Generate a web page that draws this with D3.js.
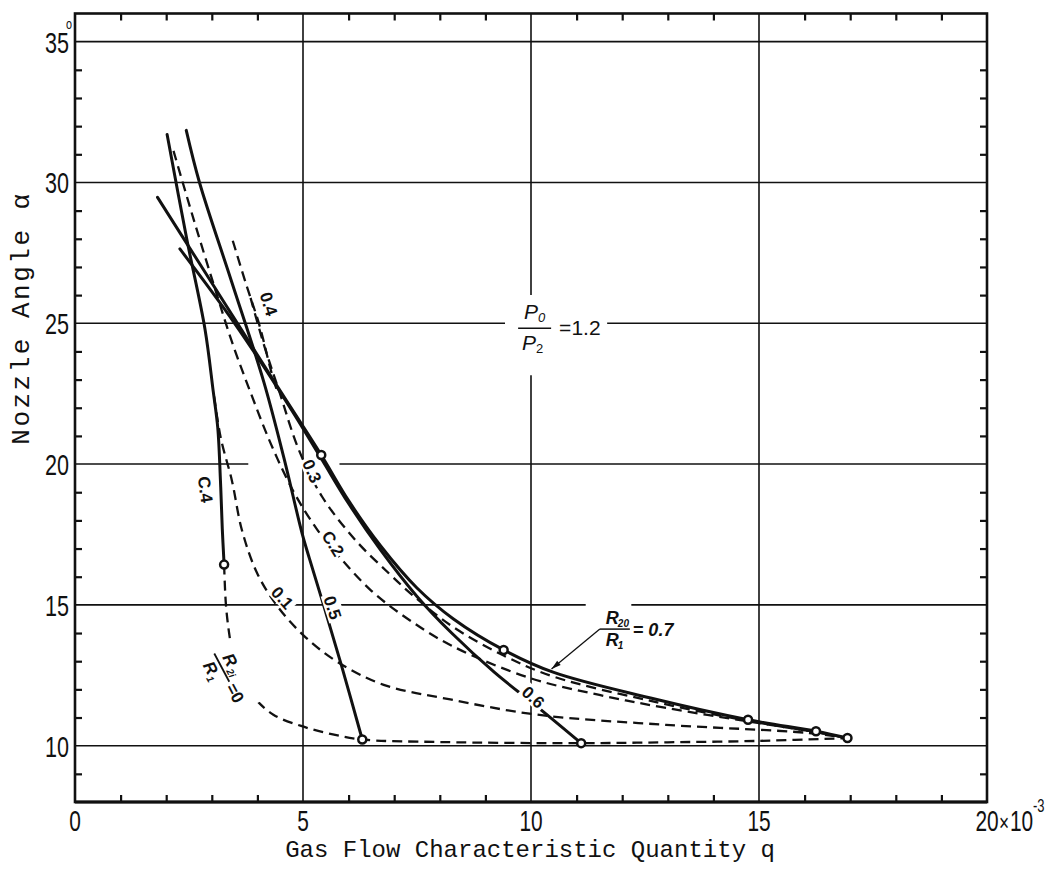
<!DOCTYPE html>
<html><head><meta charset="utf-8">
<script src="https://cdn.jsdelivr.net/npm/d3@7"></script>
<style>body{margin:0;background:#fff}svg{display:block}</style>
</head><body><svg id="c" width="1045" height="872"></svg>
<script>
// ---- tick labels / axis data ----
const xMajor = [0, 5, 10, 15, 20];
const xMajorLabels = ["0", "5", "10", "15", "20"];
const yMajor = [10, 15, 20, 25, 30, 35];
const yMajorLabels = ["10", "15", "20", "25", "30", "35"];
const xTitle = "Gas Flow Characteristic Quantity q";
const yTitle = "Nozzle Angle \u03b1";

// ---- solid lines R20/R1 (q in 10^-3, alpha in degrees) ----
const s04_q = [2.02, 2.45, 2.85, 3.03, 3.13, 3.19, 3.23, 3.27];
const s04_a = [31.7, 28.0, 24.8, 22.6, 21.3, 19.4, 17.7, 16.43];
const s05_q = [2.44, 2.73, 3.43, 4.14, 4.58, 4.98, 5.14, 5.45, 5.84, 6.3];
const s05_a = [31.85, 30.0, 26.5, 22.92, 20.23, 17.54, 16.65, 15.0, 12.87, 10.22];
const s06_q = [2.3, 3.5, 4.7, 5.4, 6.0, 6.7, 7.5, 8.26, 9.2, 10.2, 11.1];
const s06_a = [27.64, 25.0, 22.05, 20.2, 18.6, 16.95, 15.3, 14.0, 12.6, 11.3, 10.09];
const s07_q = [1.81, 2.7, 3.6, 4.5, 5.4, 6.0, 6.7, 7.5, 8.3, 9.4, 10.5, 12.6, 14.76, 16.25, 16.94];
const s07_a = [29.47, 27.2, 24.9, 22.6, 20.32, 18.7, 17.1, 15.6, 14.5, 13.4, 12.6, 11.7, 10.92, 10.51, 10.27];

// ---- dashed lines R2i/R1 ----
const d0_q = [3.27, 3.31, 3.38, 3.5, 3.7, 3.9, 4.35, 4.96, 5.6, 6.3, 8.0, 11.1, 13.0, 15.0, 16.94];
const d0_a = [16.43, 15.0, 14.0, 12.9, 12.2, 11.75, 11.1, 10.7, 10.42, 10.22, 10.13, 10.09, 10.12, 10.17, 10.27];
const d01_q = [3.05, 3.2, 3.44, 3.66, 3.99, 4.43, 5.01, 5.75, 6.77, 8.23, 10.14, 12.96, 16.1, 16.94];
const d01_a = [22.4, 20.9, 19.42, 17.66, 16.14, 14.97, 13.92, 12.98, 12.16, 11.64, 11.1, 10.74, 10.45, 10.27];
const d02_q = [2.16, 2.6, 3.06, 3.45, 3.86, 4.3, 4.8, 5.3, 5.72, 6.5, 7.3, 8.26, 9.98, 11.5, 12.96, 14.76, 16.25, 16.94];
const d02_a = [31.12, 28.7, 26.28, 24.3, 22.5, 20.7, 19.0, 17.7, 16.85, 15.5, 14.5, 13.55, 12.4, 11.8, 11.34, 10.86, 10.48, 10.27];
const d03_q = [3.85, 4.15, 4.47, 4.91, 5.42, 6.15, 6.89, 7.4, 8.26, 9.4, 10.5, 12.6, 14.76, 16.25, 16.94];
const d03_a = [25.9, 24.2, 22.63, 20.5, 18.84, 17.3, 16.11, 15.35, 14.25, 13.2, 12.45, 11.6, 10.88, 10.48, 10.27];
const d04_q = [3.46, 3.75, 4.05, 4.3, 4.45];
const d04_a = [27.93, 26.4, 24.9, 23.3, 22.5];

// ---- marked points ----
const pts_q = [3.27, 6.3, 11.1, 5.4, 9.4, 14.76, 16.25, 16.94];
const pts_a = [16.43, 10.22, 10.09, 20.32, 13.4, 10.92, 10.51, 10.27];

// ---- inline curve labels ----
const lab_text = ["0.4", "C.4", "0.3", "C.2", "0.1", "0.5", "0.6"];
const lab_q = [4.25, 2.86, 5.2, 5.66, 4.55, 5.65, 10.05];
const lab_a = [25.69, 19.1, 19.75, 17.18, 15.25, 14.9, 11.72];
const lab_rot = [72, 82, 66, 58, 48, 72, 42];

const svg = d3.select("#c");
const x = d3.scaleLinear().domain([0, 20]).range([75, 987]);
const y = d3.scaleLinear().domain([8, 36]).range([802, 13.5]);
const ink = "#111";
const mono = "'Liberation Mono','DejaVu Sans Mono',monospace";
const sans = "'Liberation Sans','DejaVu Sans',sans-serif";

// ---- gridlines (with the interruptions of the original) ----
const g = svg.append("g");
const hGaps = {25: [[9.43, 11.67]], 20: [[3.8, 5.8]], 15: [[11.2, 12.2]]};
yMajor.forEach(v => {
  const gaps = hGaps[v] || [];
  let start = 0;
  const segs = [];
  gaps.forEach(([a, b]) => { segs.push([start, a]); start = b; });
  segs.push([start, 20]);
  segs.forEach(([a, b]) => g.append("line")
    .attr("x1", x(a)).attr("x2", x(b)).attr("y1", y(v)).attr("y2", y(v))
    .attr("stroke", ink).attr("stroke-width", 1.6));
});
const vGaps = {10: [[23.15, 26.0]]};
[5, 10, 15].forEach(v => {
  const gaps = vGaps[v] || [];
  let start = 8;
  const segs = [];
  gaps.forEach(([a, b]) => { segs.push([start, a]); start = b; });
  segs.push([start, 36]);
  segs.forEach(([a, b]) => g.append("line")
    .attr("x1", x(v)).attr("x2", x(v)).attr("y1", y(a)).attr("y2", y(b))
    .attr("stroke", ink).attr("stroke-width", 1.6));
});

// ---- minor ticks via d3 axes (inward) ----
const minorX = d3.range(1, 20).filter(d => d % 5 !== 0);
const minorY = d3.range(9, 36).filter(d => d % 5 !== 0);
const styleAxis = sel => { sel.select(".domain").remove(); sel.selectAll("line").attr("stroke", ink).attr("stroke-width", 2.2); sel.selectAll("text").remove(); };
svg.append("g").attr("transform", `translate(0,${y(8)})`).call(d3.axisBottom(x).tickValues(minorX).tickSize(-7)).call(styleAxis);
svg.append("g").attr("transform", `translate(0,${y(36)})`).call(d3.axisTop(x).tickValues(minorX).tickSize(-7)).call(styleAxis);
svg.append("g").attr("transform", `translate(${x(0)},0)`).call(d3.axisLeft(y).tickValues(minorY).tickSize(-7)).call(styleAxis);
svg.append("g").attr("transform", `translate(${x(20)},0)`).call(d3.axisRight(y).tickValues(minorY).tickSize(-7)).call(styleAxis);

// ---- frame ----
svg.append("rect").attr("x", x(0)).attr("y", y(36)).attr("width", x(20) - x(0)).attr("height", y(8) - y(36))
  .attr("fill", "none").attr("stroke", ink).attr("stroke-width", 2.6);
svg.append("line").attr("x1", x(0)).attr("x2", x(20)).attr("y1", y(8)).attr("y2", y(8)).attr("stroke", ink).attr("stroke-width", 3.2);

// ---- tick labels (tall, narrow digits) ----
const tl = svg.append("g").attr("font-family", sans).attr("fill", ink);
const nt = (px, py, t, anchor, size) => tl.append("text")
  .attr("transform", `translate(${px},${py}) scale(0.72,1)`)
  .attr("text-anchor", anchor).attr("font-size", size).text(t);
xMajor.forEach((v, i) => nt(x(v), 831, xMajorLabels[i], "middle", 29));
nt(x(20) + 12, 831, "\u00d7", "start", 24);
nt(x(20) + 23, 831, "10", "start", 29);
nt(x(20) + 46, 812, "-3", "start", 18);
yMajor.forEach((v, i) => nt(x(0) - 6, y(v) + 11, yMajorLabels[i], "end", 30));
nt(x(0) - 9, y(35) - 13, "o", "start", 15);

// ---- axis titles ----
svg.append("text").attr("x", 530).attr("y", 857).attr("text-anchor", "middle")
  .attr("font-family", mono).attr("font-size", 24).attr("fill", ink).text(xTitle);
svg.append("text").attr("transform", `translate(29,318) rotate(-90)`).attr("text-anchor", "middle")
  .attr("font-family", mono).attr("font-size", 26).attr("letter-spacing", 2.5).attr("fill", ink).text(yTitle);

// ---- curves ----
const line = d3.line().x(d => x(d[0])).y(d => y(d[1])).curve(d3.curveCatmullRom.alpha(0.5));
const zip = (qs, as) => qs.map((q, i) => [q, as[i]]);
const cg = svg.append("g").attr("fill", "none").attr("stroke", ink).attr("stroke-linecap", "round");
[[d0_q, d0_a], [d01_q, d01_a], [d02_q, d02_a], [d03_q, d03_a], [d04_q, d04_a]].forEach(([qs, as]) => {
  cg.append("path").attr("d", line(zip(qs, as))).attr("stroke-width", 2.3).attr("stroke-dasharray", "10,6").attr("stroke-linecap", "butt");
});
[[s04_q, s04_a], [s05_q, s05_a], [s06_q, s06_a], [s07_q, s07_a]].forEach(([qs, as]) => {
  cg.append("path").attr("d", line(zip(qs, as))).attr("stroke-width", 3);
});

// ---- curve labels ----
const lg = svg.append("g").attr("font-family", sans).attr("font-weight", "bold").attr("font-size", 17).attr("fill", ink);
lab_text.forEach((t, i) => {
  const gx = lg.append("g").attr("transform", `translate(${x(lab_q[i])},${y(lab_a[i])}) rotate(${lab_rot[i]})`);
  gx.append("rect").attr("x", -14).attr("y", -9).attr("width", 28).attr("height", 17).attr("fill", "#fff");
  gx.append("text").attr("text-anchor", "middle").attr("dy", 6).text(t);
});

// ---- marked points ----
svg.append("g").selectAll("circle").data(zip(pts_q, pts_a)).join("circle")
  .attr("cx", d => x(d[0])).attr("cy", d => y(d[1])).attr("r", 4)
  .attr("fill", "#fff").attr("stroke", ink).attr("stroke-width", 2.5);

// ---- R2i/R1 = 0 label ----
const r0 = svg.append("g").attr("transform", `translate(${x(3.3)},${y(12.6)}) rotate(62)`)
  .attr("font-family", sans).attr("font-weight", "bold").attr("font-style", "italic").attr("font-size", 17).attr("fill", ink);
r0.append("rect").attr("x", -24).attr("y", -21).attr("width", 66).attr("height", 42).attr("fill", "#fff");
r0.append("text").attr("x", -9).attr("y", -4).attr("text-anchor", "middle").text("R");
r0.append("text").attr("x", -1).attr("y", -1).attr("font-size", 10).text("2i");
r0.append("line").attr("x1", -22).attr("x2", 10).attr("y1", 1).attr("y2", 1).attr("stroke", ink).attr("stroke-width", 1.8);
r0.append("text").attr("x", -11).attr("y", 17).attr("text-anchor", "middle").text("R");
r0.append("text").attr("x", -4).attr("y", 20).attr("font-size", 10).text("1");
r0.append("text").attr("x", 13).attr("y", 7).attr("font-style", "normal").text("=0");

// ---- P0/P2 = 1.2 label ----
const p = svg.append("g").attr("transform", `translate(${x(10.2)},${y(25)})`)
  .attr("font-family", sans).attr("font-size", 21).attr("fill", ink);
p.append("text").attr("x", -9).attr("y", -4).attr("font-style", "italic").attr("text-anchor", "middle").text("P");
p.append("text").attr("x", -2).attr("y", -1).attr("font-size", 13).attr("font-style", "italic").text("0");
p.append("line").attr("x1", -22).attr("x2", 11).attr("y1", 5).attr("y2", 5).attr("stroke", ink).attr("stroke-width", 1.5);
p.append("text").attr("x", -11).attr("y", 27).attr("font-style", "italic").attr("text-anchor", "middle").text("P");
p.append("text").attr("x", -4).attr("y", 30).attr("font-size", 13).text("2");
p.append("text").attr("x", 19).attr("y", 12).text("=1.2");

// ---- R20/R1 = 0.7 label with arrow ----
const ax0 = x(11.51), ay0 = y(14.14), ax1 = x(10.45), ay1 = y(12.72);
const r7 = svg.append("g").attr("transform", `translate(${ax0},${ay0})`)
  .attr("font-family", sans).attr("font-weight", "bold").attr("font-style", "italic").attr("font-size", 18).attr("fill", ink);
r7.append("text").attr("x", 6).attr("y", -5).text("R");
r7.append("text").attr("x", 18).attr("y", -2).attr("font-size", 10).text("20");
r7.append("line").attr("x1", 0).attr("x2", 30).attr("y1", 0).attr("y2", 0).attr("stroke", ink).attr("stroke-width", 1.5);
r7.append("text").attr("x", 6).attr("y", 17).text("R");
r7.append("text").attr("x", 18).attr("y", 20).attr("font-size", 10).text("1");
r7.append("text").attr("x", 33).attr("y", 7).text("= 0.7");
svg.append("line").attr("x1", ax0).attr("y1", ay0).attr("x2", ax1).attr("y2", ay1).attr("stroke", ink).attr("stroke-width", 1.3);
const ang = Math.atan2(ay1 - ay0, ax1 - ax0);
const ah = 10;
svg.append("path").attr("d", `M${ax1},${ay1} L${ax1 - ah * Math.cos(ang - 0.28)},${ay1 - ah * Math.sin(ang - 0.28)} L${ax1 - ah * Math.cos(ang + 0.28)},${ay1 - ah * Math.sin(ang + 0.28)} Z`).attr("fill", ink);
</script>
</body></html>
